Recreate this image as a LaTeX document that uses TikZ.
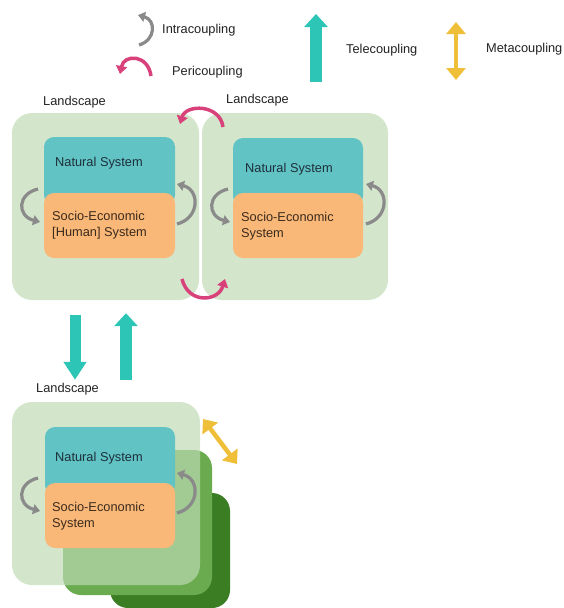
\documentclass[tikz,border=0pt]{standalone}
\usepackage{fontspec}
\setmainfont{Liberation Sans}
\usetikzlibrary{arrows.meta}
\definecolor{landc}{HTML}{BEDAB4}
\definecolor{midg}{HTML}{6AAB50}
\definecolor{darkg}{HTML}{3B7D23}
\definecolor{natc}{HTML}{62C3C4}
\definecolor{socc}{HTML}{F9B877}
\definecolor{intrac}{HTML}{8A8A8A}
\definecolor{peric}{HTML}{D9417A}
\definecolor{telec}{HTML}{2DC5B5}
\definecolor{metac}{HTML}{F0BF3A}
\definecolor{natt}{HTML}{1D2F3A}
\definecolor{soct}{HTML}{3A2A1E}
\definecolor{labt}{HTML}{222222}
\tikzset{
  land/.style={draw=none, fill=landc, fill opacity=0.68, rounded corners=20pt, inner sep=0pt},
  stackbox/.style={draw=none, rounded corners=18pt, inner sep=0pt},
  natbox/.style={draw=none, fill=natc, rounded corners=10pt, minimum width=131pt, minimum height=68pt, inner sep=0pt},
  socbox/.style={draw=none, fill=socc, rounded corners=10pt, minimum width=131pt, minimum height=65pt, inner sep=0pt},
  txt/.style={anchor=west, inner sep=0pt, font=\fontsize{12.8pt}{16pt}\selectfont, text=labt, align=left},
  nattxt/.style={txt, text=natt},
  soctxt/.style={txt, text=soct},
  intra/.style={draw=intrac, line width=3.2pt, -{Triangle[length=7pt,width=10pt]}},
  peri/.style={draw=peric, line width=3.5pt, -{Triangle[length=8pt,width=11pt]}},
  tele/.style={draw=telec, line width=12pt, -{Triangle[length=13pt,width=23pt]}},
  teledown/.style={draw=telec, line width=11pt, -{Triangle[length=18pt,width=22pt]}},
  meta/.style={draw=metac, line width=4.5pt, {Triangle[length=12pt,width=19pt]}-{Triangle[length=12pt,width=19pt]}},
}
\begin{document}
\begin{tikzpicture}[x=1pt,y=-1pt]
\useasboundingbox (0,0) rectangle (563,608);

% ---------- legend ----------
\coordinate (ia) at (139,45);
\coordinate (ib) at (138,15);
\draw[intra] (ia) .. controls (156,40) and (156,20) .. (ib);
\node[txt] (tintra) at (162,30) {Intracoupling};

\coordinate (pa) at (151,76);
\coordinate (pb) at (120,74);
\draw[peri] (pa) .. controls (148,54) and (124,54) .. (pb);
\node[txt] (tperi) at (172,72) {Pericoupling};

\coordinate (ta) at (316,82);
\coordinate (tb) at (316,14);
\draw[tele] (ta) -- (tb);
\node[txt] (ttele) at (346,50) {Telecoupling};

\coordinate (ma) at (456,22);
\coordinate (mb) at (456,80);
\draw[meta] (ma) -- (mb);
\node[txt] (tmeta) at (486,49) {Metacoupling};

% ---------- top-left landscape ----------
\node[land, minimum width=187pt, minimum height=187pt] (L1) at (105.5,206.5) {};
\node[natbox] (N1) at (109.5,171) {};
\node[socbox] (S1) at (109.5,225.5) {};
\node[txt] (tL1) at (43,102) {Landscape};
\node[nattxt] (tN1) at (55,163) {Natural System};
\node[soctxt] (tS1) at (52,225) {Socio-Economic\\{}[Human] System};
\draw[intra] (38,189) .. controls (17,194) and (17,216) .. (40,222);
\draw[intra] (177,224) .. controls (200,218) and (200,190) .. (177,184);

% ---------- top-right landscape ----------
\node[land, minimum width=186pt, minimum height=187pt] (L2) at (295,206.5) {};
\node[natbox, minimum width=130pt] (N2) at (298,172) {};
\node[socbox, minimum width=130pt] (S2) at (298,225.5) {};
\node[txt] (tL2) at (226,100) {Landscape};
\node[nattxt] (tN2) at (245,169) {Natural System};
\node[soctxt] (tS2) at (241,226) {Socio-Economic\\System};
\draw[intra] (228,189) .. controls (207,194) and (207,216) .. (230,222);
\draw[intra] (366,224) .. controls (389,218) and (389,190) .. (366,184);

% pericoupling between L1 and L2
\draw[peri] (223,127) .. controls (220,104) and (186,104) .. (180,124);
\draw[peri] (182,279) .. controls (188,304) and (218,302) .. (225,279);

% ---------- bottom landscape stack ----------
\node[stackbox, fill=darkg, minimum width=120pt, minimum height=115pt] (D3) at (170,550.5) {};
\node[stackbox, fill=midg, minimum width=149pt, minimum height=145pt] (M3) at (137.5,522.5) {};
\node[land, minimum width=188pt, minimum height=183pt] (L3) at (106,493.5) {};
\node[natbox, minimum width=130pt] (N3) at (110,461) {};
\node[socbox, minimum width=130pt] (S3) at (110,515.5) {};
\node[txt] (tL3) at (36,389) {Landscape};
\node[nattxt] (tN3) at (55,458) {Natural System};
\node[soctxt] (tS3) at (52,516) {Socio-Economic\\System};
\draw[intra] (38,478) .. controls (17,483) and (17,505) .. (40,511);
\draw[intra] (177,513) .. controls (200,507) and (200,479) .. (177,473);

% telecoupling between L1 and L3
\draw[teledown] ([shift={(-30.5,15)}]L1.south) -- ([shift={(-31,-22)}]L3.north);
\draw[tele] ([shift={(20,-22)}]L3.north) -- ([shift={(20.5,13)}]L1.south);

% metacoupling
\draw[meta] (203,419) -- (237,464);
\end{tikzpicture}
\end{document}
